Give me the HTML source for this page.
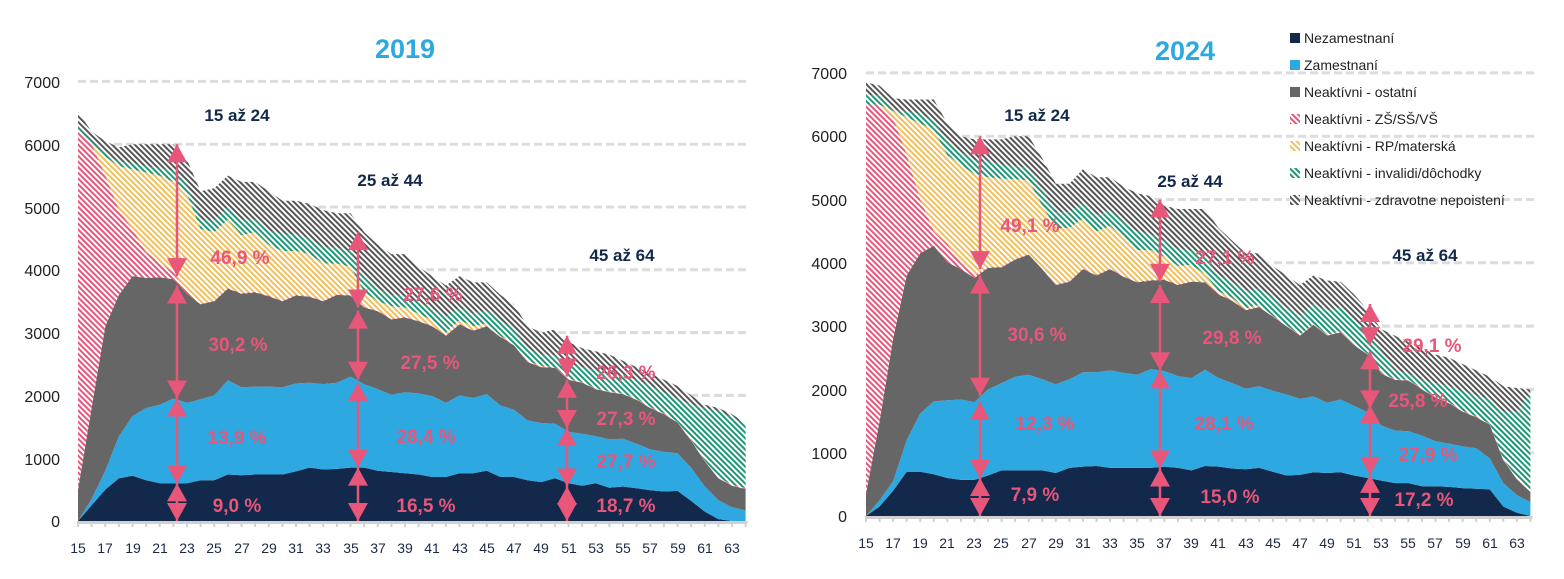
<!DOCTYPE html>
<html><head><meta charset="utf-8"><style>
html,body{margin:0;padding:0;background:#fff;}
svg{display:block;font-family:"Liberation Sans",sans-serif;}
.yl{font-size:16px;fill:#222;text-anchor:end;}
.xl{font-size:14px;fill:#1a2a44;text-anchor:middle;}
.pc{font-size:19px;font-weight:bold;fill:#e8567a;text-anchor:middle;}
.ag{font-size:17px;font-weight:bold;fill:#13294b;text-anchor:middle;}
.tt{font-size:27px;font-weight:bold;fill:#2ea8e0;text-anchor:middle;}
.lg{font-size:14px;fill:#222;}
</style></head><body>
<svg id="s" width="1564" height="579" viewBox="0 0 1564 579" xmlns="http://www.w3.org/2000/svg">
<defs>
<pattern id="pk" patternUnits="userSpaceOnUse" width="4" height="4" patternTransform="rotate(-45)"><rect width="4" height="4" fill="#fff"/><rect width="2" height="4" fill="#e8567a"/></pattern>
<pattern id="yw" patternUnits="userSpaceOnUse" width="4" height="4" patternTransform="rotate(-45)"><rect width="4" height="4" fill="#fff"/><rect width="2" height="4" fill="#f2bf5e"/></pattern>
<pattern id="gr" patternUnits="userSpaceOnUse" width="4" height="4" patternTransform="rotate(-45)"><rect width="4" height="4" fill="#fff"/><rect width="2" height="4" fill="#1c9676"/></pattern>
<pattern id="dk" patternUnits="userSpaceOnUse" width="4" height="4" patternTransform="rotate(-45)"><rect width="4" height="4" fill="#fff"/><rect width="2" height="4" fill="#555"/></pattern>
</defs>
<g id="grid"></g>
<g id="areas"></g>
<g id="arrows"></g>
<text class="tt" x="405" y="58">2019</text>
<text class="tt" x="1185" y="60">2024</text>
<text class="yl" x="60" y="527">0</text><text class="yl" x="60" y="465">1000</text><text class="yl" x="60" y="402">2000</text><text class="yl" x="60" y="339">3000</text><text class="yl" x="60" y="276">4000</text><text class="yl" x="60" y="214">5000</text><text class="yl" x="60" y="151">6000</text><text class="yl" x="60" y="88">7000</text>
<text class="yl" x="847" y="522">0</text><text class="yl" x="847" y="459">1000</text><text class="yl" x="847" y="396">2000</text><text class="yl" x="847" y="332">3000</text><text class="yl" x="847" y="269">4000</text><text class="yl" x="847" y="206">5000</text><text class="yl" x="847" y="142">6000</text><text class="yl" x="847" y="79">7000</text>
<g class="xl">
<text x="78" y="553">15</text><text x="105" y="553">17</text><text x="133" y="553">19</text><text x="160" y="553">21</text><text x="187" y="553">23</text><text x="214" y="553">25</text><text x="242" y="553">27</text><text x="269" y="553">29</text><text x="296" y="553">31</text><text x="323" y="553">33</text><text x="351" y="553">35</text><text x="378" y="553">37</text><text x="405" y="553">39</text><text x="432" y="553">41</text><text x="460" y="553">43</text><text x="487" y="553">45</text><text x="514" y="553">47</text><text x="541" y="553">49</text><text x="569" y="553">51</text><text x="596" y="553">53</text><text x="623" y="553">55</text><text x="650" y="553">57</text><text x="678" y="553">59</text><text x="705" y="553">61</text><text x="732" y="553">63</text>
</g>
<g class="xl">
<text x="866" y="548">15</text><text x="893" y="548">17</text><text x="920" y="548">19</text><text x="947" y="548">21</text><text x="974" y="548">23</text><text x="1001" y="548">25</text><text x="1029" y="548">27</text><text x="1056" y="548">29</text><text x="1083" y="548">31</text><text x="1110" y="548">33</text><text x="1137" y="548">35</text><text x="1164" y="548">37</text><text x="1191" y="548">39</text><text x="1218" y="548">41</text><text x="1246" y="548">43</text><text x="1273" y="548">45</text><text x="1300" y="548">47</text><text x="1327" y="548">49</text><text x="1354" y="548">51</text><text x="1381" y="548">53</text><text x="1408" y="548">55</text><text x="1435" y="548">57</text><text x="1463" y="548">59</text><text x="1490" y="548">61</text><text x="1517" y="548">63</text>
</g>
<text class="ag" x="237" y="121">15 až 24</text><text class="ag" x="390" y="186">25 až 44</text><text class="ag" x="622" y="261">45 až 64</text>
<text class="ag" x="1037" y="121">15 až 24</text><text class="ag" x="1190" y="187">25 až 44</text><text class="ag" x="1425" y="261">45 až 64</text>
<g class="pc">
<text x="237" y="512">9,0 %</text><text x="237" y="444">13,9 %</text><text x="238" y="351">30,2 %</text><text x="240" y="264">46,9 %</text>
<text x="426" y="512">16,5 %</text><text x="426" y="443">28,4 %</text><text x="430" y="369">27,5 %</text><text x="433" y="301">27,6 %</text>
<text x="626" y="512">18,7 %</text><text x="626" y="468">27,7 %</text><text x="626" y="425">27,3 %</text><text x="626" y="379">26,3 %</text>
<text x="1035" y="501">7,9 %</text><text x="1045" y="430">12,3 %</text><text x="1037" y="341">30,6 %</text><text x="1030" y="232">49,1 %</text>
<text x="1230" y="503">15,0 %</text><text x="1224" y="430">28,1 %</text><text x="1232" y="344">29,8 %</text><text x="1225" y="264">27,1 %</text>
<text x="1424" y="506">17,2 %</text><text x="1428" y="461">27,9 %</text><text x="1418" y="407">25,8 %</text><text x="1432" y="352">29,1 %</text>
</g>
<g class="lg">
<rect x="1290" y="33" width="10" height="10" fill="#13294b"/><text x="1304" y="43">Nezamestnaní</text>
<rect x="1290" y="60" width="10" height="10" fill="#2ea8e0"/><text x="1304" y="70">Zamestnaní</text>
<rect x="1290" y="87" width="10" height="10" fill="#666"/><text x="1304" y="97">Neaktívni - ostatní</text>
<rect x="1290" y="114" width="10" height="10" fill="url(#pk)"/><text x="1304" y="124">Neaktívni - ZŠ/SŠ/VŠ</text>
<rect x="1290" y="141" width="10" height="10" fill="url(#yw)"/><text x="1304" y="151">Neaktívni - RP/materská</text>
<rect x="1290" y="168" width="10" height="10" fill="url(#gr)"/><text x="1304" y="178">Neaktívni - invalidi/dôchodky</text>
<rect x="1290" y="195" width="10" height="10" fill="url(#dk)"/><text x="1304" y="205">Neaktívni -  zdravotne nepoistení</text>
</g>
</svg>
<script>
(function(){
var NS="http://www.w3.org/2000/svg";
function el(p,t,a){var e=document.createElementNS(NS,t);for(var k in a)e.setAttribute(k,a[k]);p.appendChild(e);return e;}
var grid=document.getElementById('grid'),areas=document.getElementById('areas'),arr=document.getElementById('arrows');
function fill(base,given,add){return base.map(function(v,i){return i<given.length?given[i]:v+add;});}
var L={x0:78,step:13.625,y0:521,k:62.8/1000,xe:750,
nz:[0,250,500,680,720,650,600,600,600,650,650,740,730,740,740,740,790,850,820,830,850,850,800,780,760,740,700,700,760,760,800,700,700,650,620,680,600,560,600,530,550,520,490,470,480,320,150,30,0,0],
zm:[0,350,800,1350,1670,1800,1850,1950,1880,1940,2000,2240,2130,2140,2140,2130,2190,2200,2180,2200,2300,2180,2100,2010,2050,2030,1990,1880,2000,1960,2020,1840,1770,1600,1560,1550,1420,1390,1350,1300,1310,1230,1140,1100,1080,850,550,330,220,170],
os:[500,1800,3100,3600,3900,3870,3880,3850,3620,3450,3500,3700,3620,3640,3580,3500,3590,3570,3500,3600,3590,3400,3340,3210,3240,3180,3100,2950,3130,3030,3100,2930,2800,2530,2450,2440,2250,2200,2100,2050,2020,1930,1800,1700,1570,1280,950,680,560,510],
zsG:[6250,6000,5500,4950,4650,4280,4120,3960,3650,3460],
rpG:[6250,6000,5800,5650,5600,5550,5500,5400,5200,4650,4600,4800,4550,4600,4400,4300,4300,4250,4100,4100,4050,3650,3500,3420,3400,3300,3200,3000,3200,3100,3150,2950,2820,2550,2470,2450],
iv:[6280,6050,5850,5720,5700,5650,5620,5580,5350,4800,4780,5000,4800,4800,4620,4570,4570,4500,4350,4350,4300,3900,3700,3600,3580,3480,3380,3250,3400,3300,3350,3200,3050,2750,2650,2640,2500,2450,2400,2340,2300,2250,2150,2050,1950,1850,1800,1750,1650,1550],
tot:[6520,6200,6050,5950,6000,6000,6000,6000,5750,5250,5300,5500,5400,5400,5250,5100,5100,5050,4950,4900,4900,4600,4400,4250,4250,4050,3900,3750,3900,3800,3800,3600,3450,3100,3000,3050,2850,2750,2700,2650,2550,2450,2350,2250,2150,2000,1850,1800,1700,1560],
arrows:[[177,[[0,600],[600,1950],[1950,3750],[3900,6000]]],[358,[[0,850],[850,2200],[2250,3350],[3400,4600]]],[567,[[0,550],[550,1480],[1480,2250],[2300,2950]]]]};
var R={x0:866,step:13.56,y0:516,k:63.3/1000,xe:1535,
nz:[0,150,400,700,700,660,600,570,570,640,720,720,720,720,680,760,780,790,760,760,760,760,780,760,720,790,780,750,740,760,700,640,650,690,680,690,640,600,560,520,520,470,470,460,440,430,420,150,50,0],
zm:[0,250,550,1200,1620,1810,1830,1840,1800,2000,2100,2200,2230,2160,2080,2160,2270,2270,2300,2260,2230,2320,2290,2210,2180,2310,2180,2100,2010,2050,1980,1920,1850,1890,1790,1840,1740,1640,1430,1350,1340,1270,1180,1140,1100,1070,910,520,330,220],
os:[350,1500,2800,3800,4150,4270,4010,3900,3760,3920,3930,4050,4130,3900,3650,3700,3900,3800,3900,3780,3690,3720,3730,3650,3700,3690,3500,3400,3250,3300,3150,3000,2850,3020,2850,2900,2700,2550,2250,2150,2140,2000,1870,1780,1650,1560,1440,880,580,380],
zsG:[6500,6500,6300,5700,5000,4500,4300,4000,3800],
rpG:[6500,6500,6400,6300,6200,6100,5700,5550,5400,5350,5330,5320,5300,4900,4550,4550,4700,4500,4580,4400,4200,4200,4100,3950,3970,3820,3550,3450,3280,3340],
iv:[6650,6650,6400,6400,6350,6250,5900,5750,5620,5600,5550,5530,5500,5150,4800,4800,4950,4750,4830,4650,4500,4450,4350,4220,4200,4100,3800,3700,3550,3600,3450,3300,3150,3350,3250,3300,3080,2900,2600,2300,2250,2150,2100,2050,1980,1900,1850,1650,1650,1950],
tot:[6850,6800,6600,6580,6580,6580,6200,6000,5950,5950,5950,6000,6000,5650,5250,5250,5480,5350,5350,5200,5100,5050,4900,4850,4850,4850,4550,4350,4150,4150,3950,3800,3650,3800,3720,3700,3500,3250,2950,2850,2750,2650,2550,2500,2400,2300,2200,2050,2020,2000],
arrows:[[980,[[0,600],[600,1800],[1900,3800],[3900,6000]]],[1160,[[0,750],[750,2300],[2300,3650],[3700,5000]]],[1370,[[0,650],[650,1750],[1700,2600],[2700,3350]]]]};
function draw(C){
  var X=function(i){return C.x0+i*C.step;},Y=function(v){return C.y0-v*C.k;};
  for(var g=1;g<=7;g++){el(grid,'line',{x1:C.x0,x2:C.xe,y1:Y(g*1000),y2:Y(g*1000),stroke:'#dcdcdc','stroke-width':3,'stroke-dasharray':'8,4'});}
  var zs=fill(C.os,C.zsG,10);
  var rp=fill(zs,C.rpG,5);
  var iv=C.iv.map(function(v,i){return Math.max(v,rp[i]);});
  var tot=C.tot.map(function(v,i){return Math.max(v,iv[i]);});
  var zm=C.zm.map(function(v,i){return Math.max(v,C.nz[i]);});
  var os=C.os.map(function(v,i){return Math.max(v,zm[i]);});
  var layers=[[C.nz,'#13294b'],[zm,'#2ea8e0'],[os,'#666666'],[zs,'url(#pk)'],[rp,'url(#yw)'],[iv,'url(#gr)'],[tot,'url(#dk)']];
  var prev=C.nz.map(function(){return 0;});
  layers.forEach(function(L){
    var top=L[0],pts=[];
    for(var i=0;i<top.length;i++)pts.push(X(i).toFixed(1)+','+Y(top[i]).toFixed(1));
    for(var i=top.length-1;i>=0;i--)pts.push(X(i).toFixed(1)+','+Y(prev[i]).toFixed(1));
    el(areas,'polygon',{points:pts.join(' '),fill:L[1]});
    prev=top;
  });
  el(areas,'line',{x1:C.x0,x2:X(49)+2,y1:C.y0+1.5,y2:C.y0+1.5,stroke:'#d0d0d0','stroke-width':3});
  for(var i=0;i<=49;i++)el(areas,'line',{x1:X(i),x2:X(i),y1:C.y0,y2:C.y0+6,stroke:'#d0d0d0','stroke-width':2});
  var col='#e8567a';
  C.arrows.forEach(function(a){
    var x=a[0];
    a[1].forEach(function(s){
      var y1=Y(s[0]),y2=Y(s[1]);
      el(arr,'line',{x1:x,x2:x,y1:y1,y2:y2,stroke:col,'stroke-width':2.5});
      el(arr,'polygon',{points:(x-10)+','+(y1-18)+' '+(x+10)+','+(y1-18)+' '+x+','+y1,fill:col});
      el(arr,'polygon',{points:(x-10)+','+(y2+18)+' '+(x+10)+','+(y2+18)+' '+x+','+y2,fill:col});
    });
  });
}
draw(L);draw(R);
})();
</script>
</body></html>
